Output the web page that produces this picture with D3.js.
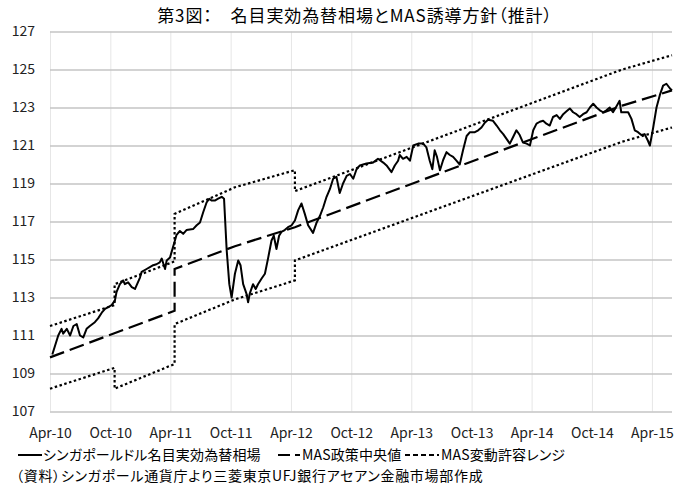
<!DOCTYPE html>
<html>
<head>
<meta charset="utf-8">
<script src="https://d3js.org/d3.v7.min.js"></script>
<style>
  body { margin: 0; background: #fff; }
  svg text { font-family: "Noto Sans CJK JP", sans-serif; font-feature-settings: "palt"; }
</style>
</head>
<body>
<svg id="chart" width="674" height="485"></svg>
<script>
// text
const titleText = "第3図：　名目実効為替相場とMAS誘導方針（推計）";
const legendNames = ["シンガポールドル名目実効為替相場", "MAS政策中央値", "MAS変動許容レンジ"];
const sourceText = "（資料）シンガポール通貨庁より三菱東京UFJ銀行アセアン金融市場部作成";

// axes
const yTicks = [107, 109, 111, 113, 115, 117, 119, 121, 123, 125, 127];
const xTickLabels = ["Apr-10", "Oct-10", "Apr-11", "Oct-11", "Apr-12", "Oct-12",
                     "Apr-13", "Oct-13", "Apr-14", "Oct-14", "Apr-15"];

// S$ NEER
const rate = [
  ["2010-04-08",110.0],["2010-04-26",111.0],["2010-05-06",111.35],["2010-05-11",111.1],["2010-05-22",111.35],
  ["2010-06-01",111.0],["2010-06-11",111.5],["2010-06-21",111.6],["2010-07-01",111.0],["2010-07-11",110.9],
  ["2010-07-21",111.35],["2010-07-31",111.5],["2010-08-15",111.7],["2010-08-25",111.9],["2010-09-05",112.2],
  ["2010-09-15",112.4],["2010-09-25",112.5],["2010-10-05",112.6],["2010-10-15",112.85],["2010-10-20",113.3],
  ["2010-10-30",113.7],["2010-11-09",113.9],["2010-11-14",113.7],["2010-11-24",113.8],["2010-12-05",113.55],
  ["2010-12-15",113.45],["2010-12-30",114.05],["2011-01-04",114.35],["2011-01-19",114.5],["2011-01-29",114.6],
  ["2011-02-08",114.7],["2011-02-18",114.75],["2011-02-28",114.85],["2011-03-06",115.05],["2011-03-16",114.5],
  ["2011-03-21",114.95],["2011-03-31",115.1],["2011-04-05",115.4],["2011-04-15",116.0],["2011-04-20",116.3],
  ["2011-04-30",116.5],["2011-05-10",116.35],["2011-05-20",116.55],["2011-06-09",116.6],["2011-06-20",116.8],
  ["2011-06-30",116.95],["2011-07-10",117.5],["2011-07-20",118.0],["2011-07-28",118.2],["2011-08-04",118.1],
  ["2011-08-14",118.1],["2011-08-24",118.2],["2011-09-04",118.3],["2011-09-11",118.2],["2011-09-19",115.5],
  ["2011-09-27",113.7],["2011-10-04",113.0],["2011-10-14",114.25],["2011-10-24",114.95],["2011-10-31",114.7],
  ["2011-11-08",113.7],["2011-11-18",113.2],["2011-11-23",112.75],["2011-11-28",113.2],["2011-12-08",113.7],
  ["2011-12-16",113.45],["2011-12-23",113.7],["2012-01-03",114.0],["2012-01-13",114.25],["2012-01-23",115.1],
  ["2012-02-02",116.0],["2012-02-09",116.25],["2012-02-17",115.55],["2012-02-25",116.25],["2012-03-03",116.45],
  ["2012-03-13",116.55],["2012-03-23",116.7],["2012-04-03",116.8],["2012-04-13",117.05],["2012-04-23",117.6],
  ["2012-05-03",117.95],["2012-05-13",117.4],["2012-05-23",116.8],["2012-06-07",116.4],["2012-06-18",116.95],
  ["2012-06-28",117.3],["2012-07-08",117.75],["2012-07-18",118.3],["2012-07-28",118.7],["2012-08-07",119.25],
  ["2012-08-17",119.35],["2012-08-27",118.5],["2012-09-06",119.0],["2012-09-17",119.4],["2012-09-27",119.5],
  ["2012-10-07",119.25],["2012-10-17",119.75],["2012-10-27",119.95],["2012-11-16",120.05],["2012-12-06",120.1],
  ["2012-12-21",120.3],["2013-01-06",120.1],["2013-01-16",119.95],["2013-01-31",119.6],["2013-02-10",119.95],
  ["2013-02-20",120.2],["2013-02-25",120.5],["2013-03-07",120.3],["2013-03-18",120.4],["2013-03-28",120.2],
  ["2013-04-07",121.0],["2013-04-22",121.1],["2013-05-07",121.1],["2013-05-17",120.9],["2013-05-27",120.2],
  ["2013-06-04",119.75],["2013-06-11",120.75],["2013-06-18",120.4],["2013-06-27",119.7],["2013-07-07",120.25],
  ["2013-07-17",120.65],["2013-07-27",120.5],["2013-08-06",120.4],["2013-08-16",120.2],["2013-08-26",120.0],
  ["2013-09-05",120.75],["2013-09-16",121.5],["2013-09-26",121.7],["2013-10-11",121.7],["2013-10-21",121.8],
  ["2013-10-31",121.95],["2013-11-10",122.2],["2013-11-20",122.35],["2013-12-05",122.3],["2013-12-16",122.05],
  ["2013-12-26",121.8],["2014-01-05",121.6],["2014-01-15",121.35],["2014-01-25",121.1],["2014-02-04",121.45],
  ["2014-02-14",121.8],["2014-02-24",121.55],["2014-03-06",121.15],["2014-03-17",121.1],["2014-03-27",121.0],
  ["2014-04-06",121.8],["2014-04-16",122.15],["2014-04-26",122.25],["2014-05-06",122.3],["2014-05-16",122.15],
  ["2014-05-26",122.05],["2014-06-05",122.5],["2014-06-16",122.6],["2014-06-26",122.4],["2014-07-06",122.65],
  ["2014-07-16",122.8],["2014-07-26",122.95],["2014-08-05",122.75],["2014-08-15",122.65],["2014-08-25",122.5],
  ["2014-09-04",122.65],["2014-09-15",122.75],["2014-09-25",123.0],["2014-10-05",123.2],["2014-10-15",123.0],
  ["2014-10-25",122.85],["2014-11-04",122.75],["2014-11-14",122.85],["2014-11-24",123.0],["2014-12-04",122.75],
  ["2014-12-09",122.9],["2014-12-19",123.2],["2014-12-24",123.35],["2014-12-29",122.75],["2015-01-09",122.75],
  ["2015-01-19",122.75],["2015-01-29",122.4],["2015-02-08",121.8],["2015-02-18",121.7],["2015-02-28",121.55],
  ["2015-03-10",121.6],["2015-03-20",121.25],["2015-03-26",121.0],["2015-04-05",121.95],["2015-04-15",123.0],
  ["2015-04-25",123.65],["2015-05-05",124.15],["2015-05-15",124.25],["2015-05-26",124.0],["2015-06-01",123.9]
];

// policy band (estimated), repeated dates are the jumps at policy meetings
const centre = [
  ["2010-04-01",109.85],["2011-04-14",112.3],["2011-04-14",114.5],["2011-10-14",115.7],
  ["2012-04-13",116.7],["2015-01-01",123.1],["2015-06-01",123.9]
];
const upper = [
  ["2010-04-01",111.5],["2010-10-14",112.6],["2010-10-14",113.7],["2011-04-14",114.9],["2011-04-14",117.4],
  ["2011-10-14",118.8],["2012-04-13",119.7],["2012-04-13",118.6],["2015-01-01",125.0],["2015-06-01",125.75]
];
const lower = [
  ["2010-04-01",108.2],["2010-10-14",109.3],["2010-10-14",108.2],["2011-04-14",109.5],["2011-04-14",111.6],
  ["2011-10-14",112.9],["2012-04-13",113.9],["2012-04-13",114.95],["2015-01-01",121.2],["2015-06-01",121.95]
];

const parseDay = d3.timeParse("%Y-%m-%d");
const parseTick = d3.timeParse("%b-%y");

const svg = d3.select("#chart");
const plotL = 50, plotR = 672, plotT = 31.5, plotB = 411.5;

const x = d3.scaleTime()
  .domain([parseDay("2010-04-01"), parseDay("2015-06-01")])
  .range([plotL, plotR]);
const y = d3.scaleLinear().domain([107, 127]).range([plotB, plotT]);

// vertical grid + x labels
const xAxis = svg.append("g")
  .attr("transform", `translate(0,${plotB})`)
  .call(d3.axisBottom(x)
    .tickValues(xTickLabels.map(parseTick))
    .tickFormat((d, i) => xTickLabels[i])
    .tickSize(-(plotB - plotT))
    .tickPadding(17));
xAxis.select(".domain").remove();
xAxis.selectAll("line").attr("stroke", "#e6e6e6");
xAxis.selectAll("text").attr("font-size", 14).attr("fill", "#222");

// horizontal grid + y labels
const yAxis = svg.append("g")
  .attr("transform", `translate(${plotL},0)`)
  .call(d3.axisLeft(y)
    .tickValues(yTicks)
    .tickSize(-(plotR - plotL))
    .tickPadding(15));
yAxis.select(".domain").remove();
yAxis.selectAll("line").attr("stroke", "#c4c4c4").attr("stroke-width", 1.3);
yAxis.selectAll("text").attr("font-size", 14).attr("fill", "#222");

const line = d3.line()
  .x(d => x(parseDay(d[0])))
  .y(d => y(d[1]));

[upper, lower].forEach(band => {
  svg.append("path")
    .datum(band)
    .attr("d", line)
    .attr("fill", "none")
    .attr("stroke", "#000")
    .attr("stroke-width", 2.2)
    .attr("stroke-dasharray", "2.5,2.5");
});

svg.append("path")
  .datum(centre)
  .attr("d", line)
  .attr("fill", "none")
  .attr("stroke", "#000")
  .attr("stroke-width", 2.2)
  .attr("stroke-dasharray", "15,6");

svg.append("path")
  .datum(rate)
  .attr("d", line)
  .attr("fill", "none")
  .attr("stroke", "#000")
  .attr("stroke-width", 2)
  .attr("stroke-linejoin", "round");

// title
svg.append("text")
  .attr("x", 355)
  .attr("y", 22)
  .attr("text-anchor", "middle")
  .attr("font-size", 17)
  .attr("letter-spacing", 0.9)
  .attr("fill", "#000")
  .text(titleText);

// legend (one row) and source note
const lg = svg.append("g");
const legendY = 455;
const items = [
  {x: 18, w: 24, dash: null, textX: 43},
  {x: 278, w: 22, dash: "12,5", textX: 302},
  {x: 405, w: 34, dash: "5,3", textX: 441}
];
items.forEach((it, i) => {
  lg.append("line")
    .attr("x1", it.x).attr("x2", it.x + it.w)
    .attr("y1", legendY).attr("y2", legendY)
    .attr("stroke", "#000")
    .attr("stroke-width", 2)
    .attr("stroke-dasharray", it.dash);
  lg.append("text")
    .attr("x", it.textX)
    .attr("y", legendY + 5)
    .attr("font-size", 14)
    .attr("letter-spacing", 0.15)
    .attr("fill", "#000")
    .text(legendNames[i]);
});

svg.append("text")
  .attr("x", 16)
  .attr("y", 480.5)
  .attr("font-size", 14)
  .attr("letter-spacing", 0.7)
  .attr("fill", "#000")
  .text(sourceText);
</script>
</body>
</html>
